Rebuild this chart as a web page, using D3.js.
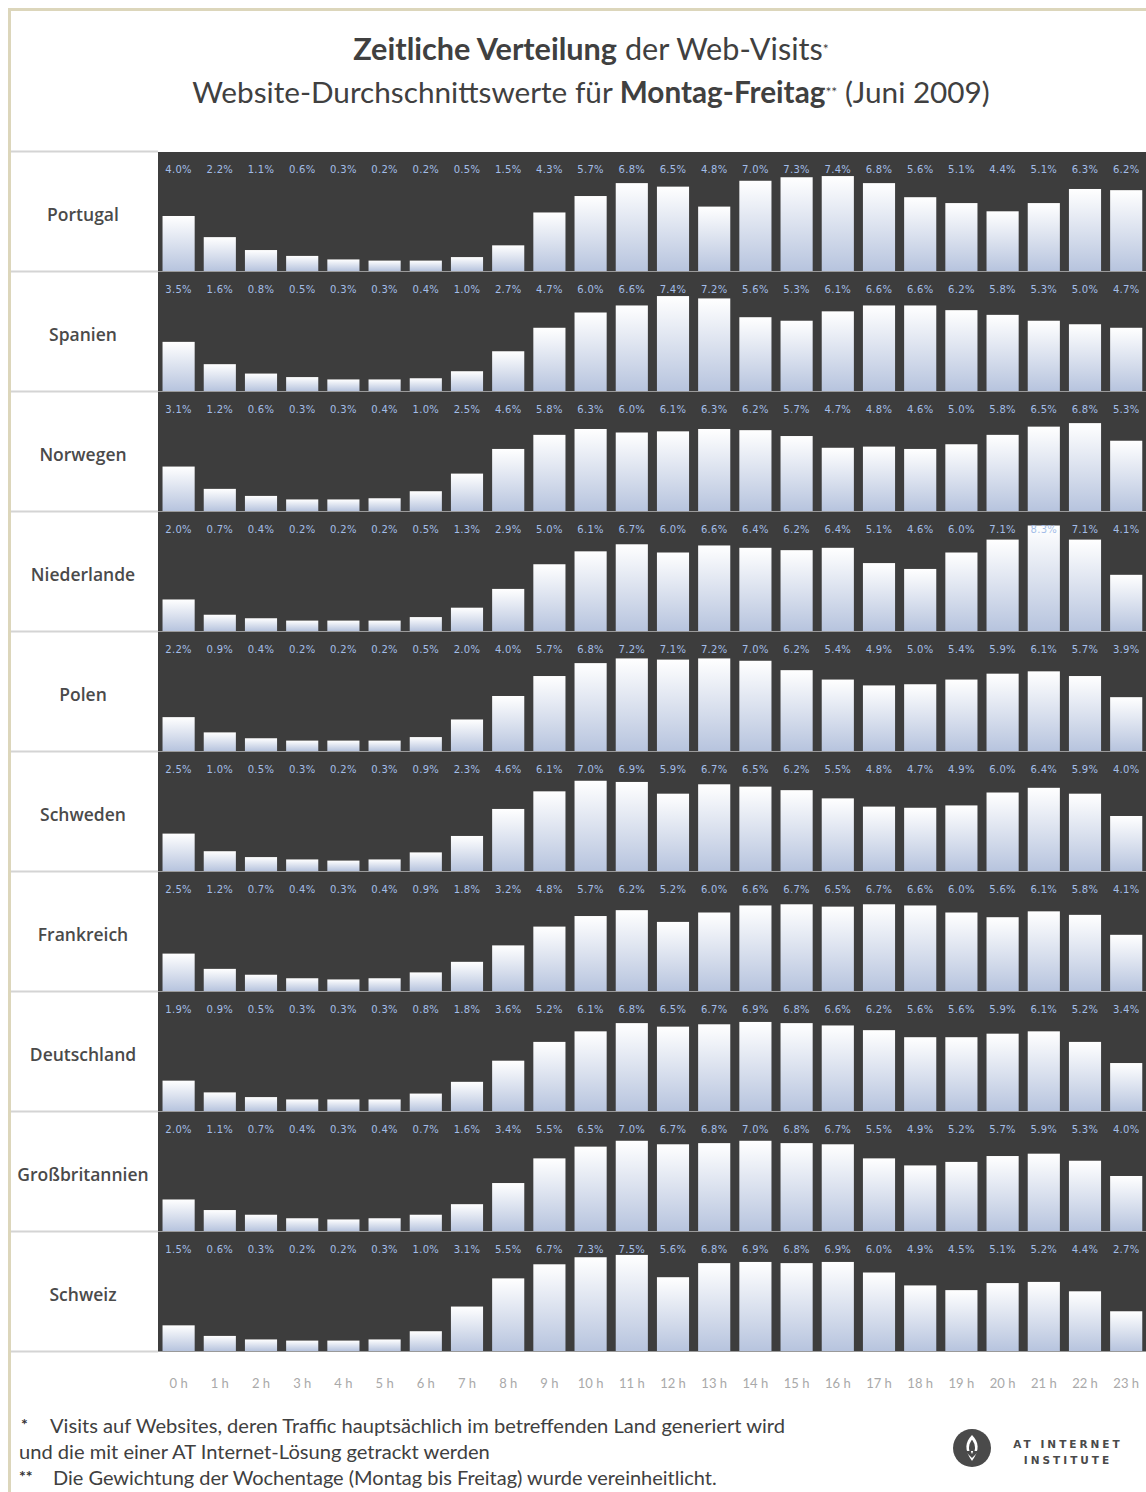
<!DOCTYPE html>
<html>
<head>
<meta charset="utf-8">
<script src="https://cdn.jsdelivr.net/npm/d3@7/dist/d3.min.js"></script>
<style>
  html, body { margin: 0; padding: 0; background: #fff; }
  svg { display: block; }
</style>
</head>
<body>
<svg id="chart" width="1146" height="1492"></svg>
<script>
// Hourly distribution of web visits (share of daily visits, %), Monday–Friday, June 2009
const hours = ["0 h","1 h","2 h","3 h","4 h","5 h","6 h","7 h","8 h","9 h","10 h","11 h",
               "12 h","13 h","14 h","15 h","16 h","17 h","18 h","19 h","20 h","21 h","22 h","23 h"];

const countries = ["Portugal","Spanien","Norwegen","Niederlande","Polen","Schweden",
                   "Frankreich","Deutschland","Großbritannien","Schweiz"];

const portugal      = [4.0,2.2,1.1,0.6,0.3,0.2,0.2,0.5,1.5,4.3,5.7,6.8,6.5,4.8,7.0,7.3,7.4,6.8,5.6,5.1,4.4,5.1,6.3,6.2];
const spanien       = [3.5,1.6,0.8,0.5,0.3,0.3,0.4,1.0,2.7,4.7,6.0,6.6,7.4,7.2,5.6,5.3,6.1,6.6,6.6,6.2,5.8,5.3,5.0,4.7];
const norwegen      = [3.1,1.2,0.6,0.3,0.3,0.4,1.0,2.5,4.6,5.8,6.3,6.0,6.1,6.3,6.2,5.7,4.7,4.8,4.6,5.0,5.8,6.5,6.8,5.3];
const niederlande   = [2.0,0.7,0.4,0.2,0.2,0.2,0.5,1.3,2.9,5.0,6.1,6.7,6.0,6.6,6.4,6.2,6.4,5.1,4.6,6.0,7.1,8.3,7.1,4.1];
const polen         = [2.2,0.9,0.4,0.2,0.2,0.2,0.5,2.0,4.0,5.7,6.8,7.2,7.1,7.2,7.0,6.2,5.4,4.9,5.0,5.4,5.9,6.1,5.7,3.9];
const schweden      = [2.5,1.0,0.5,0.3,0.2,0.3,0.9,2.3,4.6,6.1,7.0,6.9,5.9,6.7,6.5,6.2,5.5,4.8,4.7,4.9,6.0,6.4,5.9,4.0];
const frankreich    = [2.5,1.2,0.7,0.4,0.3,0.4,0.9,1.8,3.2,4.8,5.7,6.2,5.2,6.0,6.6,6.7,6.5,6.7,6.6,6.0,5.6,6.1,5.8,4.1];
const deutschland   = [1.9,0.9,0.5,0.3,0.3,0.3,0.8,1.8,3.6,5.2,6.1,6.8,6.5,6.7,6.9,6.8,6.6,6.2,5.6,5.6,5.9,6.1,5.2,3.4];
const grossbritannien = [2.0,1.1,0.7,0.4,0.3,0.4,0.7,1.6,3.4,5.5,6.5,7.0,6.7,6.8,7.0,6.8,6.7,5.5,4.9,5.2,5.7,5.9,5.3,4.0];
const schweiz       = [1.5,0.6,0.3,0.2,0.2,0.3,1.0,3.1,5.5,6.7,7.3,7.5,5.6,6.8,6.9,6.8,6.9,6.0,4.9,4.5,5.1,5.2,4.4,2.7];

const seriesValues = [portugal, spanien, norwegen, niederlande, polen, schweden,
                      frankreich, deutschland, grossbritannien, schweiz];

// ---- layout ----
const W = 1146, H = 1492;
const panelLeft = 158;
const panelTop = 152, rowH = 120;
const labelColLeft = 10;
const nRows = countries.length;
const panelBottom = panelTop + nRows * rowH;

const svg = d3.select("#chart");

const defs = svg.append("defs");
const grad = defs.append("linearGradient")
  .attr("id", "barFill").attr("x1", 0).attr("y1", 0).attr("x2", 0).attr("y2", 1);
grad.append("stop").attr("offset", "0%").attr("stop-color", "#ffffff");
grad.append("stop").attr("offset", "100%").attr("stop-color", "#b7c4de");

// page background and beige frame
svg.append("rect").attr("width", W).attr("height", H).attr("fill", "#fff");
svg.append("path")
  .attr("d", `M9.5,${H} V9.5 H${W}`)
  .attr("fill", "none").attr("stroke", "#dcd6bb").attr("stroke-width", 3);

// helper: fit text element to a target width by adjusting font-size
function fitWidth(sel, target) {
  const node = sel.node();
  const fs = parseFloat(sel.attr("font-size"));
  const w = node.getComputedTextLength();
  if (w > 0) sel.attr("font-size", (fs * target / w).toFixed(2));
}

// ---- title ----
const titleFont = "Lato, 'Open Sans', sans-serif";
const t1 = svg.append("text")
  .attr("x", 591).attr("y", 60).attr("text-anchor", "middle")
  .attr("font-family", titleFont).attr("font-size", 22).attr("fill", "#404040");
t1.append("tspan").attr("font-weight", "bold").text("Zeitliche Verteilung");
t1.append("tspan").text(" der Web-Visits");
t1.append("tspan").attr("font-size", 14).attr("dy", -6).text("*");
fitWidth(t1, 478);

const t2 = svg.append("text")
  .attr("x", 591).attr("y", 103).attr("text-anchor", "middle")
  .attr("font-family", titleFont).attr("font-size", 22).attr("fill", "#404040");
t2.append("tspan").text("Website-Durchschnittswerte für ");
t2.append("tspan").attr("font-weight", "bold").text("Montag-Freitag");
t2.append("tspan").attr("font-size", 14).attr("dy", -6).text("**");
t2.append("tspan").attr("dy", 6).text(" (Juni 2009)");
fitWidth(t2, 802);

// ---- scales ----
const x = d3.scaleBand()
  .domain(hours)
  .range([panelLeft, panelLeft + 24 * 41.2])
  .paddingInner(0.22).paddingOuter(0.11);

// value axis starts slightly below zero so the smallest shares stay visible
const yRel = d3.scaleLinear().domain([-0.77, 9.45]).range([rowH, 0]);
const rowScale = d3.scaleBand().domain(countries).range([panelTop, panelBottom]);

// dark plot panel
svg.append("rect")
  .attr("x", panelLeft).attr("y", panelTop)
  .attr("width", W - panelLeft).attr("height", panelBottom - panelTop)
  .attr("fill", "#3d3d3d");

// label column row separators
const seps = d3.range(nRows + 1).map(i => panelTop + i * rowH);
svg.append("g").selectAll("line").data(seps).join("line")
  .attr("x1", labelColLeft + 1).attr("x2", panelLeft)
  .attr("y1", d => d - 0.5).attr("y2", d => d - 0.5)
  .attr("stroke", "#d4d4d4").attr("stroke-width", 2);

// rows
const rows = svg.append("g").selectAll("g.row")
  .data(countries.map((c, i) => ({ country: c, values: seriesValues[i] })))
  .join("g").attr("class", "row")
  .attr("transform", d => `translate(0,${rowScale(d.country)})`);

// baseline across the panel
rows.append("line")
  .attr("x1", panelLeft).attr("x2", W)
  .attr("y1", rowH - 0.5).attr("y2", rowH - 0.5)
  .attr("stroke", "#9a9a9a").attr("stroke-width", 1);

// bars
rows.append("g").selectAll("rect")
  .data(d => d.values.map((v, j) => ({ v, h: hours[j] })))
  .join("rect")
  .attr("x", d => x(d.h))
  .attr("width", x.bandwidth())
  .attr("y", d => yRel(d.v))
  .attr("height", d => rowH - 1 - yRel(d.v))
  .attr("fill", "url(#barFill)");

// value labels
rows.append("g").selectAll("text")
  .data(d => d.values.map((v, j) => ({ v, h: hours[j] })))
  .join("text")
  .attr("x", d => x(d.h) + x.bandwidth() / 2)
  .attr("y", 21)
  .attr("text-anchor", "middle")
  .attr("font-family", "'DejaVu Sans', sans-serif")
  .attr("font-size", 10)
  .attr("letter-spacing", 0.3)
  .attr("fill", "#a3bde8")
  .text(d => d.v.toFixed(1) + "%");

// country names
rows.append("text")
  .attr("x", 83).attr("y", rowH / 2 + 9)
  .attr("text-anchor", "middle")
  .attr("font-family", "'Open Sans', Lato, sans-serif")
  .attr("font-weight", 600)
  .attr("font-size", 17.5)
  .attr("fill", "#4a4a4a")
  .text(d => d.country);

// hour axis
const xAxis = d3.axisBottom(x).tickSize(0).tickPadding(0);
const axisG = svg.append("g")
  .attr("transform", `translate(0,${panelBottom + 27})`)
  .call(xAxis);
axisG.select(".domain").remove();
axisG.selectAll("text")
  .attr("font-family", titleFont)
  .attr("font-size", 13)
  .attr("fill", "#a9a9a9");

// ---- footnotes ----
const noteFont = "Lato, 'Open Sans', sans-serif";
function note(xStar, star, xText, y, txt, target) {
  if (star) {
    svg.append("text").attr("x", xStar).attr("y", y - 3)
      .attr("font-family", noteFont).attr("font-size", 16).attr("font-weight", "bold")
      .attr("fill", "#333").text(star);
  }
  const t = svg.append("text").attr("x", xText).attr("y", y)
    .attr("font-family", noteFont).attr("font-size", 16).attr("fill", "#404040")
    .text(txt);
  fitWidth(t, target);
}
note(21, "*", 50, 1433, "Visits auf Websites, deren Traffic hauptsächlich im betreffenden Land generiert wird", 735);
note(0, null, 19, 1459, "und die mit einer AT Internet-Lösung getrackt werden", 471);
note(19, "**", 53, 1485, "Die Gewichtung der Wochentage (Montag bis Freitag) wurde vereinheitlicht.", 664);

// ---- logo ----
const logo = svg.append("g").attr("transform", "translate(972,1448)");
logo.append("circle").attr("r", 19).attr("fill", "#4a4a4a");
logo.append("path")
  .attr("d", "M0,-13 C7,-6 8,2 0,13 C-8,2 -7,-6 0,-13 Z")
  .attr("fill", "#fff");
logo.append("path")
  .attr("d", "M0,-7 C3,-3 3,2 0,8 C-3,2 -3,-3 0,-7 Z M-6,3 L0,9 L6,3")
  .attr("fill", "#4a4a4a").attr("stroke", "#4a4a4a").attr("stroke-width", 1.5);
svg.append("text").attr("x", 1068).attr("y", 1448).attr("text-anchor", "middle")
  .attr("font-family", "'DejaVu Sans', sans-serif").attr("font-weight", "bold")
  .attr("font-size", 10.5).attr("letter-spacing", 3).attr("fill", "#4a4a4a")
  .text("AT INTERNET");
svg.append("text").attr("x", 1068).attr("y", 1464).attr("text-anchor", "middle")
  .attr("font-family", "'DejaVu Sans', sans-serif").attr("font-weight", "bold")
  .attr("font-size", 10.5).attr("letter-spacing", 3).attr("fill", "#4a4a4a")
  .text("INSTITUTE");
</script>
</body>
</html>
